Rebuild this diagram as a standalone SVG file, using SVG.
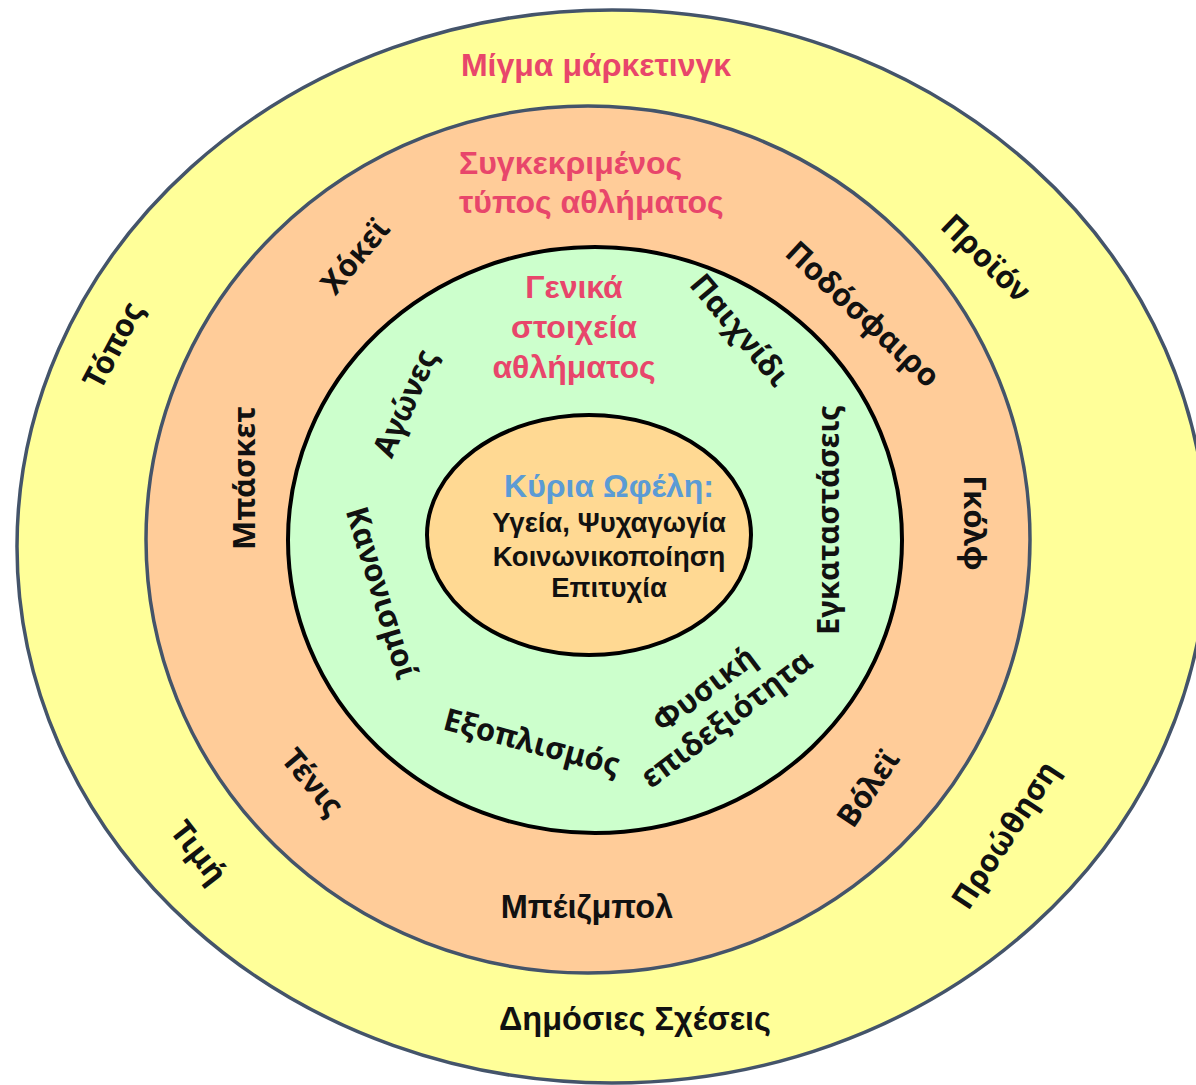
<svg xmlns="http://www.w3.org/2000/svg" width="1196" height="1085" viewBox="0 0 1196 1085">
<style>
.ring1{fill:#FFFF99;stroke:#44546A;stroke-width:3.5}
.ring2{fill:#FFCC99;stroke:#44546A;stroke-width:3.5}
.ring3{fill:#CCFFCC;stroke:#000;stroke-width:4}
.ring4{fill:#FFD993;stroke:#000;stroke-width:4}
.title{font-family:"Liberation Sans",Arial,sans-serif;font-weight:bold;fill:#E8466B;font-size:32px}
.core{font-family:"Liberation Sans",Arial,sans-serif;font-weight:bold;fill:#111;font-size:27.5px;text-anchor:middle}
.blue{font-family:"Liberation Sans",Arial,sans-serif;font-weight:bold;fill:#5B9BD5;font-size:32px;text-anchor:middle}
.hl{font-family:"Liberation Sans",Arial,sans-serif;font-weight:bold;fill:#111;font-size:32.5px;text-anchor:middle}
.lab{font-family:"Noto Sans","Open Sans",sans-serif;font-weight:bold;fill:#111;font-size:31px;text-anchor:middle}
</style>
<g id="marketing-mix">
<ellipse class="ring1" cx="612" cy="546.5" rx="595" ry="536.5"/>
<text class="title" x="596" y="76" text-anchor="middle">Μίγμα μάρκετινγκ</text>
<text class="lab" transform="translate(113,345) rotate(-62)" dy="0.35em">Τόπος</text>
<text class="lab" transform="translate(986,258) rotate(44)" dy="0.35em">Προϊόν</text>
<text class="lab" transform="translate(199,852) rotate(52)" dy="0.35em">Τιμή</text>
<text class="lab" transform="translate(1005,835) rotate(-57)" dy="0.35em">Προώθηση</text>
<text class="hl" x="635" y="1030">Δημόσιες Σχέσεις</text>
</g>
<g id="sport-type">
<ellipse class="ring2" cx="588" cy="539.5" rx="442" ry="433.5"/>
<text class="title" x="459" y="174">Συγκεκριμένος</text>
<text class="title" x="459" y="213">τύπος αθλήματος</text>
<text class="lab" transform="translate(355,256) rotate(-50)" dy="0.35em">Χόκεϊ</text>
<text class="lab" transform="translate(863,314) rotate(43)" dy="0.35em">Ποδόσφαιρο</text>
<text class="lab" transform="translate(975,523) rotate(90)" dy="0.35em">Γκόλφ</text>
<text class="lab" transform="translate(244,478) rotate(-90)" dy="0.35em">Μπάσκετ</text>
<text class="lab" transform="translate(313,782) rotate(50)" dy="0.35em">Τένις</text>
<text class="lab" transform="translate(868,788) rotate(-56)" dy="0.35em">Βόλεϊ</text>
<text class="hl" x="587" y="918">Μπέιζμπολ</text>
</g>
<g id="general-elements">
<ellipse class="ring3" cx="595" cy="540" rx="307" ry="293"/>
<text class="title" x="574" y="298" text-anchor="middle">Γενικά</text>
<text class="title" x="574" y="338" text-anchor="middle">στοιχεία</text>
<text class="title" x="574" y="378" text-anchor="middle">αθλήματος</text>
<text class="lab" transform="translate(740,330) rotate(50)" dy="0.35em">Παιχνίδι</text>
<text class="lab" transform="translate(828,520) rotate(-90)" dy="0.35em">Εγκαταστάσεις</text>
<text class="lab" transform="translate(405,403) rotate(-66)" dy="0.35em">Αγώνες</text>
<text class="lab" transform="translate(382,593) rotate(73)" dy="0.35em">Κανονισμοί</text>
<text class="lab" transform="translate(532,742) rotate(15)" dy="0.35em">Εξοπλισμός</text>
<g transform="translate(716,705) rotate(-37)">
<text class="lab" x="0" y="-9">Φυσική</text>
<text class="lab" x="0" y="28">επιδεξιότητα</text>
</g>
</g>
<g id="core-benefits">
<ellipse class="ring4" cx="589" cy="535" rx="162" ry="120"/>
<text class="blue" x="609" y="497">Κύρια Ωφέλη:</text>
<text class="core" x="609" y="532">Υγεία, Ψυχαγωγία</text>
<text class="core" x="609" y="566">Κοινωνικοποίηση</text>
<text class="core" x="609" y="597">Επιτυχία</text>
</g>
</svg>
